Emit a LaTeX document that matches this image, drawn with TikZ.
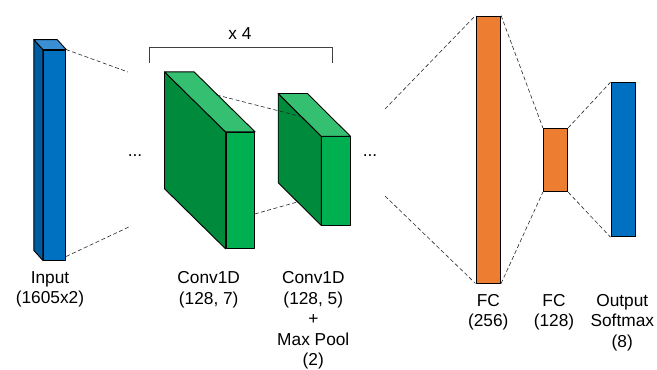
\documentclass[tikz,border=0pt]{standalone}
\usepackage{fontspec}
\setmainfont{Liberation Sans}
\usepackage{xcolor}

\definecolor{inblue}{HTML}{0070C0}
\definecolor{inblueside}{HTML}{005C9E}
\definecolor{inbluetop}{HTML}{3A8ED4}
\definecolor{convgreen}{HTML}{00B050}
\definecolor{convgreenside}{HTML}{008A3C}
\definecolor{convgreentop}{HTML}{35BF70}
\definecolor{fcorange}{HTML}{ED7D31}

\tikzset{
  face/.style={draw=black, line width=0.9pt, line join=round},
  bar/.style={face, rectangle, inner sep=0pt, fill=#1},
  link/.style={dash pattern=on 4pt off 2.5pt, line width=0.6pt, color=black!85},
  lbl/.style={font=\fontsize{17.3}{20.5}\selectfont, align=center, anchor=base, inner sep=0pt}
}

\begin{document}
\begin{tikzpicture}[x=1pt, y=-1pt]
\useasboundingbox (0,0) rectangle (657,370);

% input column
\node[bar=inblue, minimum width=22.4pt, minimum height=210pt] (inp) at (54.5,155) {};
\filldraw[face, fill=inblueside] (inp.north west) -- ++(-9,-10) -- ([shift={(-9,-10)}]inp.south west) -- (inp.south west) -- cycle;
\filldraw[face, fill=inbluetop] (inp.north west) -- ++(-9,-10) -- ([shift={(-9,-10)}]inp.north east) -- (inp.north east) -- cycle;

\coordinate (inpt) at (128,72);
\coordinate (inpb) at (131,226);
\draw[link] (inp.north east) -- (inpt);
\draw[link] ([yshift=4pt]inp.south east) -- (inpb);
\node[lbl] (dotsl) at (135,156.5) {...};

% repeated conv block
\node[bar=convgreen, minimum width=28.7pt, minimum height=116pt] (convA) at (240.3,190.3) {};
\filldraw[face, fill=convgreenside] (convA.north west) -- ++(-61,-60) -- ([shift={(-61,-60)}]convA.south west) -- (convA.south west) -- cycle;
\filldraw[face, fill=convgreentop] (convA.north west) -- ++(-61,-60) -- ([shift={(-61,-60)}]convA.north east) -- (convA.north east) -- cycle;

\node[bar=convgreen, minimum width=28.3pt, minimum height=88.3pt] (convB) at (335.8,180.8) {};
\filldraw[face, fill=convgreenside] (convB.north west) -- ++(-43,-42.7) -- ([shift={(-43,-42.7)}]convB.south west) -- (convB.south west) -- cycle;
\filldraw[face, fill=convgreentop] (convB.north west) -- ++(-43,-42.7) -- ([shift={(-43,-42.7)}]convB.north east) -- (convB.north east) -- cycle;

\coordinate (ta) at (216.7,95);
\coordinate (tb) at (301.7,116.7);
\coordinate (ba) at (254.7,214);
\coordinate (bb) at (298.3,201.7);
\draw[link] (ta) -- (tb);
\draw[link] (ba) -- (bb);

\coordinate (brl) at (149.3,63);
\coordinate (brr) at (332.7,63);
\draw[line width=0.9pt, color=black!75] (brl) -- ++(0,-16) -| (brr);
\node[lbl] (times) at (240,39) {x 4};

\node[lbl] (dotsr) at (370,156.5) {...};

% dense layers
\node[bar=fcorange, minimum width=24.7pt, minimum height=267pt] (fca) at (488.3,149.5) {};
\node[bar=fcorange, minimum width=24.4pt, minimum height=63.4pt] (fcb) at (555.5,160) {};
\node[bar=inblue, minimum width=24.7pt, minimum height=154pt] (out) at (623.3,159.7) {};

\coordinate (fct) at (385,109);
\coordinate (fcbt) at (385,196);
\draw[link] (fct) -- (fca.north west);
\draw[link] (fcbt) -- (fca.south west);
\draw[link] (fca.north east) -- (fcb.north west);
\draw[link] (fca.south east) -- (fcb.south west);
\draw[link] (fcb.north east) -- (out.north west);
\draw[link] (fcb.south east) -- (out.south west);

% labels (base = last line)
\node[lbl] (linp) at (50,303.5) {Input\\(1605x2)};
\node[lbl] (lconvA) at (208.7,304.2) {Conv1D\\(128, 7)};
\node[lbl] (lconvB) at (313.3,365.7) {Conv1D\\(128, 5)\\+\\Max Pool\\(2)};
\node[lbl] (lfca) at (488.3,326.5) {FC\\(256)};
\node[lbl] (lfcb) at (554,326.5) {FC\\(128)};
\node[lbl] (lout) at (622.3,347) {Output\\Softmax\\(8)};
\end{tikzpicture}
\end{document}
